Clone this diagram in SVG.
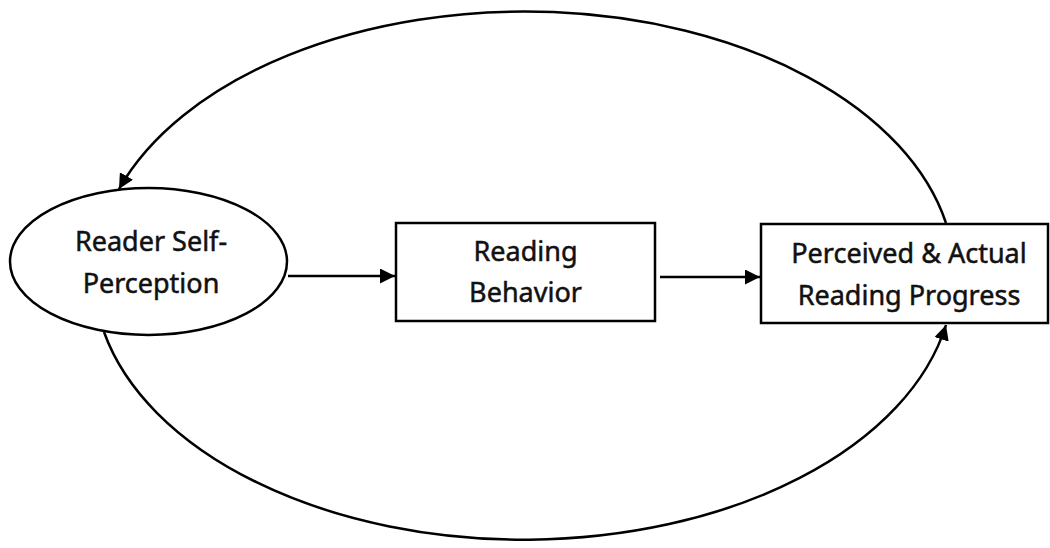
<svg xmlns="http://www.w3.org/2000/svg" width="1050" height="548" viewBox="0 0 1050 548">
<style>
.shape{fill:#fff;stroke:#000;stroke-width:2.5}
.conn{fill:none;stroke:#000;stroke-width:2.5}
.lbl{font-family:"Noto Sans","Open Sans",sans-serif;font-size:27px;fill:#111;stroke:#111;stroke-width:0.5;text-anchor:middle}
</style>
<defs>
<marker id="ah" viewBox="0 0 10 10" refX="10" refY="5" markerWidth="6" markerHeight="6" orient="auto" markerUnits="strokeWidth">
<path d="M0,0 L10,5 L0,10 z" fill="#000"/>
</marker>
</defs>
<rect width="1050" height="548" fill="#fff"/>
<g id="connectors">
<path class="conn" d="M946 223 A430 265 0 0 0 119 189" marker-end="url(#ah)"/>
<path class="conn" d="M104 332 A430 265 0 0 0 946 325" marker-end="url(#ah)"/>
<path class="conn" d="M288 276 L395 276" marker-end="url(#ah)"/>
<path class="conn" d="M660 277 L760 277" marker-end="url(#ah)"/>
</g>
<g id="node-self-perception">
<ellipse class="shape" cx="148.5" cy="261.5" rx="138.5" ry="73.5"/>
<text class="lbl" x="151" y="251">Reader Self-</text>
<text class="lbl" x="151" y="293">Perception</text>
</g>
<g id="node-reading-behavior">
<rect class="shape" x="396" y="223" width="259" height="98"/>
<text class="lbl" x="525.5" y="261">Reading</text>
<text class="lbl" x="525.5" y="302">Behavior</text>
</g>
<g id="node-progress">
<rect class="shape" x="761" y="224" width="287" height="99"/>
<text class="lbl" x="909" y="263">Perceived &amp; Actual</text>
<text class="lbl" x="909" y="305">Reading Progress</text>
</g>
</svg>
